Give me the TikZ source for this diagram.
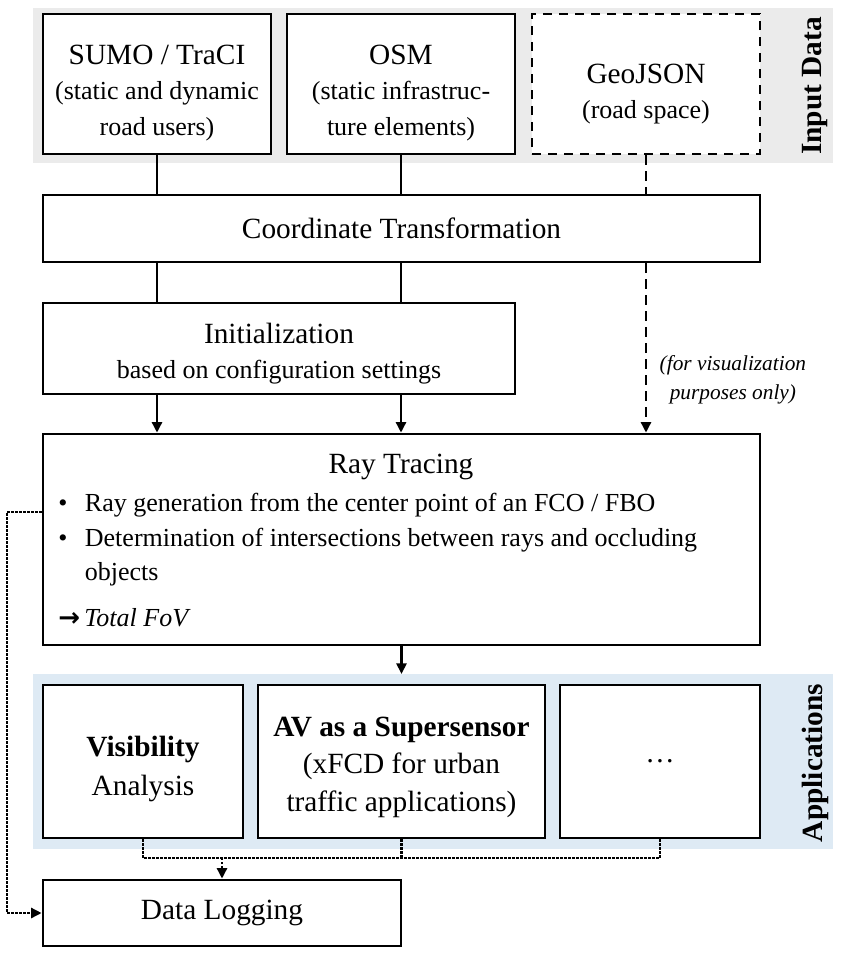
\documentclass[tikz,border=0pt]{standalone}
\usepackage{fontspec}
\setmainfont{Liberation Serif}
\newfontfamily\arrowfont{DejaVu Sans}
\usetikzlibrary{calc, arrows.meta}
\definecolor{inputgray}{HTML}{EBEBEB}
\definecolor{appblue}{HTML}{DEEAF4}

\begin{document}
\begin{tikzpicture}[>={Stealth[length=8pt, width=7.5pt, inset=0pt]}, x=0.75pt, y=-0.75pt,
  box/.style={draw, line width=2pt, fill=white, align=center, inner sep=0pt},
  mainfont/.style={font=\fontsize{22}{28}\selectfont},
  subfont/.style={font=\fontsize{19.5}{26.5}\selectfont},
  conn/.style={line width=2pt},
  dashline/.style={line width=2pt, dash pattern=on 7pt off 5pt},
  dotline/.style={line width=2pt, dash pattern=on 1.8pt off 1.2pt},
  sidelabel/.style={rotate=90, font=\fontsize{22}{26}\selectfont\bfseries}]
\useasboundingbox (0,0) rectangle (846,957);

% background bands
\fill[inputgray] (33,8) rectangle (833,163);
\fill[appblue] (33,674) rectangle (833,849);
\node[sidelabel] (inlabel) at (815,86) {Input Data};
\node[sidelabel] (applabel) at (815,763) {Applications};

% input data
\node[box, subfont, minimum width=171pt, minimum height=105pt] (sumo) at (157,84)
  {{\fontsize{22}{28}\selectfont\rule{0pt}{28pt}SUMO / TraCI}\\(static and dynamic\\road users)};
\node[box, subfont, minimum width=171pt, minimum height=105pt] (osm) at (401,84)
  {{\fontsize{22}{28}\selectfont\rule{0pt}{28pt}OSM}\\(static infrastruc-\\ture elements)};
\node[box, subfont, dashline, minimum width=171pt, minimum height=105pt] (geo) at (646,84)
  {{\fontsize{22}{28}\selectfont\rule{0pt}{30pt}GeoJSON}\\(road space)};

% processing
\node[box, mainfont, minimum width=537.75pt, minimum height=50.25pt] (coord) at (401.5,228.5) {Coordinate Transformation};
\node[box, subfont, minimum width=354pt, minimum height=68.25pt] (init) at (279,348.5)
  {{\fontsize{22}{28}\selectfont\rule{0pt}{23pt}Initialization}\\based on configuration settings};
\node[box, minimum width=537.75pt, minimum height=158.25pt] (ray) at (401.5,539.5) {};
\node[mainfont] (raytitle) at (401,467) {Ray Tracing};
\node[anchor=north west, inner sep=0pt, font=\fontsize{19.5}{26}\selectfont] (raylist) at (58,487)
  {\begin{tabular}{@{}p{20pt}@{}l@{}}
   \textbullet & Ray generation from the center point of an FCO / FBO\\
   \textbullet & Determination of intersections between rays and occluding\\
   & objects\\[8pt]
   \multicolumn{2}{@{}l@{}}{{\arrowfont\bfseries →}\,\textit{Total FoV}}
   \end{tabular}};

% applications
\node[box, font=\fontsize{22}{29}\selectfont, minimum width=150pt, minimum height=114.75pt] (vis) at (143,761.5)
  {\rule{0pt}{26pt}\textbf{Visibility}\\Analysis};
\node[box, font=\fontsize{22}{28}\selectfont, minimum width=215.25pt, minimum height=114.75pt] (av) at (401.5,761.5)
  {\rule{0pt}{23pt}\textbf{AV as a Supersensor}\\(xFCD for urban\\traffic applications)};
\node[box, mainfont, minimum width=150pt, minimum height=114.75pt] (ddots) at (660,761.5) {…};
\node[box, mainfont, minimum width=268.5pt, minimum height=49.5pt] (log) at (222,913) {Data Logging};

% connectors
\draw[conn] (sumo.south) -- (sumo.south |- coord.north);
\draw[conn] (osm.south) -- (osm.south |- coord.north);
\draw[dashline] (geo.south) -- (geo.south |- coord.north);
\draw[conn] (sumo.south |- coord.south) -- (sumo.south |- init.north);
\draw[conn] (osm.south |- coord.south) -- (osm.south |- init.north);
\draw[conn, ->] (sumo.south |- init.south) -- (sumo.south |- ray.north);
\draw[conn, ->] (osm.south |- init.south) -- (osm.south |- ray.north);
\draw[dashline, ->] (geo.south |- coord.south) -- (geo.south |- ray.north);
\node[anchor=west, align=center, font=\fontsize{16}{22}\selectfont\itshape] (visnote) at (655,380)
  {(for visualization\\purposes only)};

\coordinate (appstop) at (401.5,674);
\draw[conn, ->] (ray.south) -- (appstop);

\coordinate (merge) at (222,858);
\draw[dotline] (vis.south) -- (vis.south |- merge) -- (ddots.south |- merge) -- (ddots.south);
\draw[dotline] (av.south) -- (av.south |- merge);
\draw[dotline, ->] (merge) -- (log.north);

\coordinate (loopx) at (7,512);
\draw[dotline, ->] (loopx -| ray.west) -- (loopx) |- (log.west);
\end{tikzpicture}
\end{document}
